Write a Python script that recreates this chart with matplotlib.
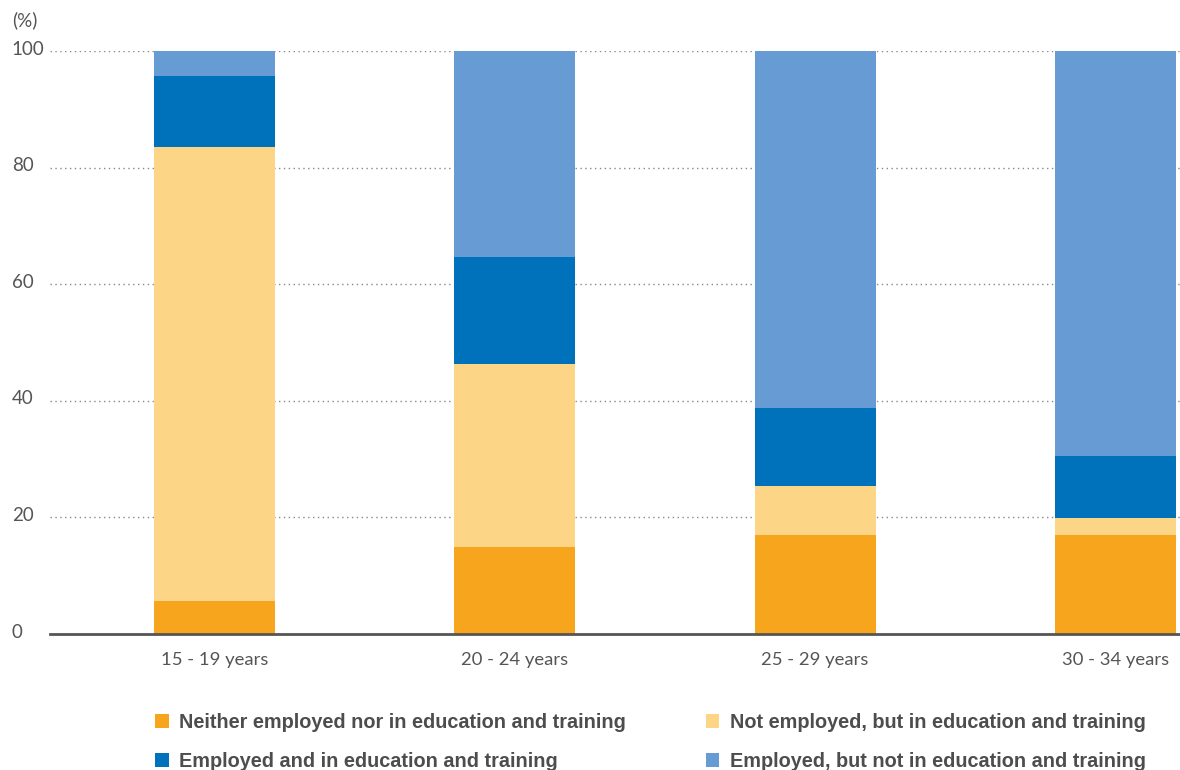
import numpy as np
import matplotlib.pyplot as plt
from matplotlib.transforms import ScaledTranslation

# data (%)
groups = ["15 - 19 years", "20 - 24 years", "25 - 29 years", "30 - 34 years"]
neet = [5.7, 14.9, 17.0, 17.0]
not_emp_edu = [77.8, 31.4, 8.4, 2.9]
emp_edu = [12.2, 18.4, 13.4, 10.6]
emp_no_edu = [4.3, 35.3, 61.2, 69.5]

labels = ["Neither employed nor in education and training",
          "Not employed, but in education and training",
          "Employed and in education and training",
          "Employed, but not in education and training"]
colors = ["#F6A51D", "#FCD587", "#0071BB", "#679BD3"]
series = [neet, not_emp_edu, emp_edu, emp_no_edu]

fig = plt.figure(figsize=(11.8, 7.7), dpi=100)
ax = fig.add_axes([50/1180, 136/770, 1130/1180, (634-51)/770])

x = np.arange(len(groups))
bottom = np.zeros(len(groups))
bars = []
for vals, c, lab in zip(series, colors, labels):
    b = ax.bar(x, vals, width=0.403, bottom=bottom, color=c, label=lab, zorder=3)
    bars.append(b)
    bottom += np.array(vals)

ax.set_xlim(-0.548, 3.215)
ax.set_ylim(0, 100)

yt = [0, 20, 40, 60, 80, 100]
ax.set_yticks(yt)
ax.set_yticklabels([str(v) for v in yt], ha="left", fontfamily="Lato",
                   fontsize=13.5, color="#555555")
ax.tick_params(axis="y", length=0, pad=27.5)
off = ScaledTranslation(0, 2.4/72, fig.dpi_scale_trans)
for t in ax.get_yticklabels():
    t.set_transform(t.get_transform() + off)

ax.set_xticks(x)
ax.set_xticklabels(groups, fontfamily="Lato", fontsize=13.3, color="#555555")
ax.tick_params(axis="x", length=0, pad=13)

for v in yt[1:]:
    ax.axhline(v, color="#888888", linestyle=(0, (1, 2.5)), linewidth=1, zorder=1)

for s in ["top", "right", "left"]:
    ax.spines[s].set_visible(False)
ax.spines["bottom"].set_color("#555555")
ax.spines["bottom"].set_linewidth(2)
ax.spines["bottom"].set_zorder(4)

fig.text(12/1180, 1-20/770, "(%)", fontfamily="Lato", fontsize=13.5,
         color="#555555", va="center", ha="left")

order = [0, 2, 1, 3]
fig.legend([bars[i] for i in order], [labels[i] for i in order],
           loc="center left", bbox_to_anchor=(155/1180, 1-742/770), ncol=2,
           frameon=False, borderpad=0, borderaxespad=0,
           handlelength=0.68, handleheight=0.68, handletextpad=0.55,
           columnspacing=4.0, labelspacing=1.0,
           prop={"family": "Liberation Sans", "weight": "bold", "size": 14.3},
           labelcolor="#4d4d4d")

plt.savefig("out.png", dpi=100)
